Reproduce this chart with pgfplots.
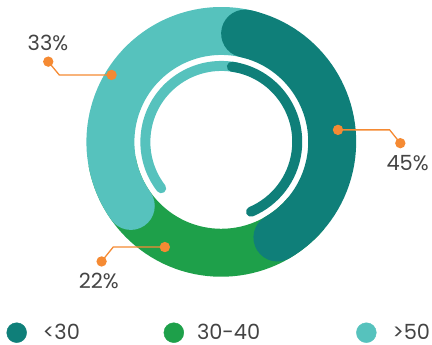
\documentclass[border=0pt]{standalone}
\usepackage{pgfplots}
\pgfplotsset{compat=1.18}
\usepackage{fontspec}
\setmainfont{Poppins}
\definecolor{cdark}{HTML}{0F7F79}
\definecolor{cgreen}{HTML}{1EA04A}
\definecolor{clight}{HTML}{56C2BD}
\definecolor{corange}{HTML}{F58A33}
\definecolor{ctext}{HTML}{444444}
% shares (percent)
\def\pDark{45}\def\pGreen{22}\def\pLight{33}
\begin{document}
\begin{tikzpicture}
\begin{axis}[scale only axis, width=432bp, height=345bp,
  xmin=-221.5, xmax=210.5, ymin=-203, ymax=142, hide axis, clip=false]
\path (rel axis cs:0,0) rectangle (rel axis cs:1,1);
% start/end angles derived from the shares
\pgfmathsetmacro{\dS}{90-12.4}
\pgfmathsetmacro{\dE}{90-3.6*\pDark+12.4}
\pgfmathsetmacro{\lS}{90-3.6*(\pDark+\pGreen)+360+6.5}
% green segment (underneath)
\draw[cgreen, line width=48bp] (axis cs:{111*cos(-40)},{111*sin(-40)}) arc[start angle=-40, end angle=-170, radius=111bp];
% light teal segment
\draw[clight, line width=48bp, line cap=round] (axis cs:{111*cos(\lS)},{111*sin(\lS)}) arc[start angle=\lS, end angle=75, radius=111bp];
% dark teal segment
\draw[cdark, line width=48bp, line cap=round] (axis cs:{111*cos(\dS)},{111*sin(\dS)}) arc[start angle=\dS, end angle=\dE, radius=111bp];
% inner thin arcs
\draw[clight, line width=10bp, line cap=round] (axis cs:{76*cos(217.7)},{76*sin(217.7)}) arc[start angle=217.7, end angle=78, radius=76bp];
\draw[cdark, line width=10bp, line cap=round] (axis cs:{76*cos(82)},{76*sin(82)}) arc[start angle=82, end angle=-67, radius=76bp];
% leader lines
\addplot[corange, line width=1.3bp, mark=*, mark size=4.5, mark indices={1,3}, mark options={fill=corange, draw=corange}] coordinates {(-109.8,67) (-162.2,67) (-173.2,80.3)};
\addplot[corange, line width=1.3bp, mark=*, mark size=4.5, mark indices={1,3}, mark options={fill=corange, draw=corange}] coordinates {(116.8,12) (168.5,12) (179.2,-1.3)};
\addplot[corange, line width=1.3bp, mark=*, mark size=4.5, mark indices={1,3}, mark options={fill=corange, draw=corange}] coordinates {(-56.5,-105.3) (-108.2,-105.3) (-119.8,-119.7)};
\node[ctext, font=\fontsize{21}{21}\selectfont] at (axis cs:-173.5,99) {33\%};
\node[ctext, font=\fontsize{21}{21}\selectfont] at (axis cs:186.5,-21) {45\%};
\node[ctext, font=\fontsize{21}{21}\selectfont] at (axis cs:-122.5,-139.7) {22\%};
% legend
\addplot[only marks, mark=*, mark size=10, cdark] coordinates {(-204.8,-191)};
\addplot[only marks, mark=*, mark size=10, cgreen] coordinates {(-47.5,-191)};
\addplot[only marks, mark=*, mark size=10, clight] coordinates {(145.2,-191)};
\node[ctext, anchor=west, font=\fontsize{21}{21}\selectfont, inner sep=0pt] at (axis cs:-178.8,-190) {<30};
\node[ctext, anchor=west, font=\fontsize{21}{21}\selectfont, inner sep=0pt] at (axis cs:-24.5,-190) {30-40};
\node[ctext, anchor=west, font=\fontsize{21}{21}\selectfont, inner sep=0pt] at (axis cs:171.2,-190) {>50};
\end{axis}
\end{tikzpicture}
\end{document}
